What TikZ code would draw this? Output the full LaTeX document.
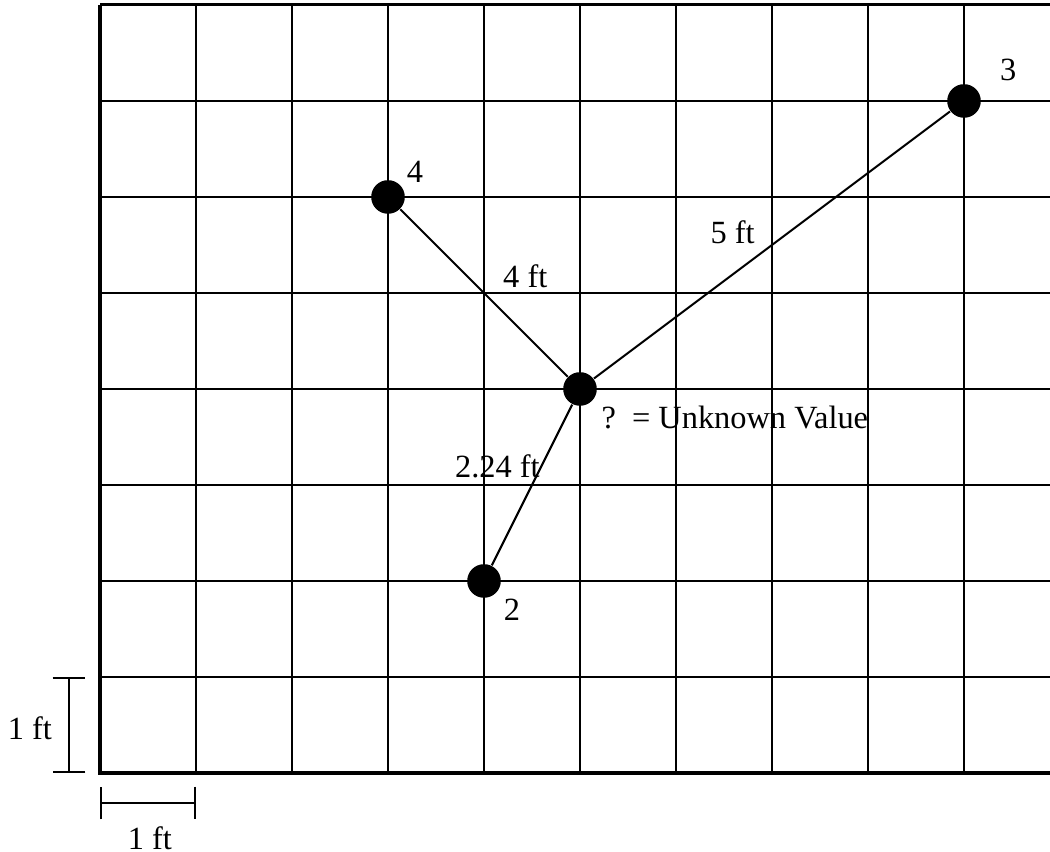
\documentclass[tikz,border=0pt]{standalone}
\usepackage{fontspec}
\setmainfont{Liberation Serif}
\usetikzlibrary{arrows.meta}

\begin{document}
\begin{tikzpicture}[
  every node/.style={font=\fontsize{9.6}{11}\selectfont},
  gridline/.style={line width=0.7pt},
  dot/.style={circle, fill=black, inner sep=0pt, minimum size=0.35cm},
  link/.style={line width=0.6pt},
  bracket/.style={line width=0.7pt, {Bar[width=3.4mm]}-{Bar[width=3.4mm]}}
]
\useasboundingbox (-1.0417,-0.823) rectangle (9.896,8.052);
% grid
\foreach \x in {1,...,9} \draw[gridline] (\x,0) -- (\x,8);
\foreach \y in {1,...,7} \draw[gridline] (0,\y) -- (9.9,\y);
\draw[line width=0.9pt] (0,8) -- (9.9,8);
\draw[line width=1.1pt] (0,8) -- (0,0) -- (9.9,0);

% points
\node[dot] (p4) at (3,6) {};
\node[dot] (p3) at (9,7) {};
\node[dot] (p2) at (4,2) {};
\node[dot] (unk) at (5,4) {};
\draw[link] (unk) -- (p4);
\draw[link] (unk) -- (p3);
\draw[link] (unk) -- (p2);

\node (lab4) at (3.28,6.26) {4};
\node (lab3) at (9.46,7.32) {3};
\node (lab2) at (4.29,1.70) {2};
\node (d4) at (4.43,5.17) {4 ft};
\node (d3) at (6.59,5.63) {5 ft};
\node (d2) at (4.14,3.19) {2.24 ft};
\node[anchor=west] (legend) at (5.10,3.70) {?\ \ = Unknown Value};

% scale
\coordinate (ya) at (-0.323,0);
\coordinate (yb) at (-0.323,1);
\draw[bracket] (ya) -- (yb);
\node (ylab) at (-0.73,0.47) {1 ft};
\coordinate (xa) at (0,-0.3125);
\coordinate (xb) at (1,-0.3125);
\draw[bracket] (xa) -- (xb);
\node (xlab) at (0.52,-0.68) {1 ft};
\end{tikzpicture}
\end{document}
